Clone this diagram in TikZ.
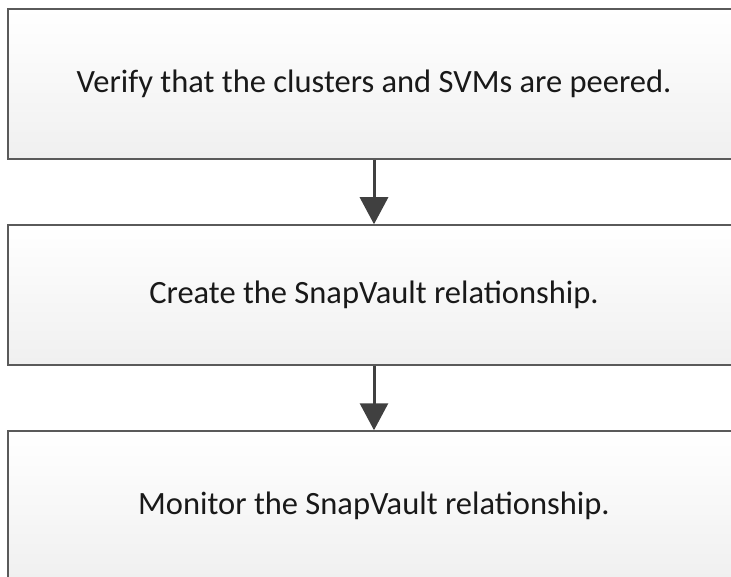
\documentclass[tikz,border=0pt]{standalone}
\usepackage{fontspec}
\setmainfont{Carlito}
\usetikzlibrary{arrows.meta}

\definecolor{edgegray}{HTML}{5A5A5A}
\definecolor{arrowgray}{HTML}{404040}

\tikzset{stepbox/.style={rectangle, draw=edgegray, line width=1.5pt, top color=white, bottom color=black!6, minimum width=732pt, minimum height=150pt, font=\fontsize{32.5}{36}\selectfont, text=black!90}}

\begin{document}
\begin{tikzpicture}[x=1pt, y=1pt]
			\useasboundingbox (0,0) rectangle (731,-577);
			% Define steps
			\node[stepbox] (S1) at (374,-84) {Verify that the clusters and SVMs are peered.};
			\node[stepbox, minimum height=140pt] (S2) at (374,-295) {Create the SnapVault relationship.};
			\node[stepbox] (S3) at (374,-506) {Monitor the SnapVault relationship.};
			
			% Draw arrows between steps
			\draw[arrowgray, line width=3pt, -{Triangle[length=27pt, width=28pt]}] (S1.south) -- (S2.north);
			\draw[arrowgray, line width=3pt, -{Triangle[length=27pt, width=28pt]}] (S2.south) -- (S3.north);
		\end{tikzpicture}
\end{document}
